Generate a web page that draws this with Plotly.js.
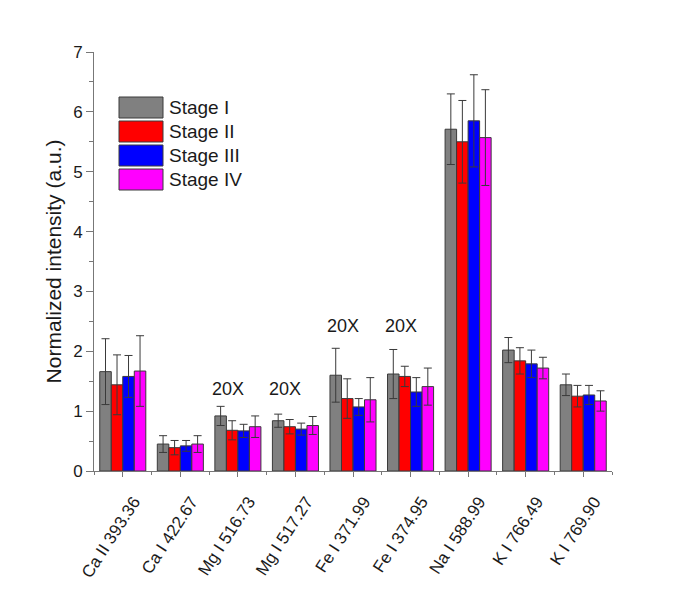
<!DOCTYPE html>
<html><head><meta charset="utf-8">
<script src="https://cdn.plot.ly/plotly-3.0.1.min.js"></script>
<style>html,body{margin:0;padding:0;background:#fff}#chart{width:686px;height:593px}</style>
</head><body><div id="chart"></div>
<script>
const categories = ["Ca II 393.36","Ca I 422.67","Mg I 516.73","Mg I 517.27","Fe I 371.99","Fe I 374.95","Na I 588.99","K I 766.49","K I 769.90"];
const stageNames = ["Stage I","Stage II","Stage III","Stage IV"];
const stage1 = [1.66,0.45,0.92,0.84,1.60,1.62,5.71,2.02,1.44];
const stage1Err = [0.55,0.14,0.16,0.11,0.45,0.41,0.59,0.21,0.18];
const stage2 = [1.44,0.39,0.68,0.74,1.21,1.58,5.50,1.84,1.25];
const stage2Err = [0.50,0.12,0.16,0.12,0.33,0.17,0.69,0.22,0.18];
const stage3 = [1.58,0.42,0.67,0.70,1.07,1.32,5.85,1.79,1.27];
const stage3Err = [0.35,0.09,0.11,0.10,0.14,0.24,0.77,0.23,0.16];
const stage4 = [1.67,0.45,0.74,0.76,1.19,1.41,5.57,1.72,1.17];
const stage4Err = [0.59,0.14,0.18,0.15,0.37,0.31,0.80,0.18,0.17];
const yTickVals = [0,1,2,3,4,5,6,7];
const noteCats = [2,3,4,5];
const noteTexts = ["20X","20X","20X","20X"];
const noteY = [1.37,1.37,2.43,2.43];

const colors = ["#808080","#ff0000","#0000ff","#ff00ff"];
const values = [stage1,stage2,stage3,stage4];
const errs = [stage1Err,stage2Err,stage3Err,stage4Err];
const xIdx = categories.map((c,i)=>i);

const traces = values.map((v,k)=>({
  type:"bar", name:stageNames[k], x:xIdx, y:v,
  marker:{color:colors[k], line:{color:"#3a3a3a", width:1}},
  error_y:{type:"data", array:errs[k], visible:true, color:"#3a3a3a", thickness:1, width:4},
  showlegend:false
}));

const M = {l:94, r:74, t:52, b:122};
const W = 686, H = 593;
const pw = W-M.l-M.r, ph = H-M.t-M.b;
const px2x = px => (px-M.l)/pw;
const py2y = py => (H-M.b-py)/ph;

const shapes = [];
const annotations = [];
stageNames.forEach((n,k)=>{
  const top = 97 + k*24;
  shapes.push({type:"rect", xref:"paper", yref:"paper",
    x0:px2x(119), x1:px2x(163), y0:py2y(top+21), y1:py2y(top),
    fillcolor:colors[k], line:{color:"#3a3a3a", width:1}});
  annotations.push({xref:"paper", yref:"paper", x:px2x(167), y:py2y(top+10.5),
    text:n, showarrow:false, xanchor:"left", yanchor:"middle",
    font:{size:19, color:"#1a1a1a"}});
});
noteCats.forEach((c,i)=>{
  annotations.push({xref:"x", yref:"y", x:c, y:noteY[i], text:noteTexts[i],
    showarrow:false, xanchor:"center", yanchor:"middle", xshift:-10,
    font:{size:18, color:"#1a1a1a"}});
});

const layout = {
  width:W, height:H, margin:M,
  paper_bgcolor:"#fff", plot_bgcolor:"#fff",
  font:{family:"Liberation Sans, Arial, sans-serif", color:"#1a1a1a"},
  barmode:"group", bargap:0.2, bargroupgap:0,
  xaxis:{type:"linear", range:[-0.5,8.5], tickmode:"array", tickvals:xIdx, ticktext:categories,
    tickangle:-57, ticks:"outside", ticklen:5, tickcolor:"#777", showline:true, linecolor:"#777", linewidth:1,
    showgrid:false, zeroline:false, tickfont:{size:17}, ticklabelshift:11, ticklabelstandoff:8,
    minor:{tickmode:"linear", tick0:0.5, dtick:1, ticks:"outside", ticklen:3, tickcolor:"#777", showgrid:false}},
  yaxis:{range:[0,7], tickmode:"array", tickvals:yTickVals, ticks:"outside", ticklen:7, tickcolor:"#777",
    showline:true, linecolor:"#777", linewidth:1, showgrid:false, zeroline:false, tickfont:{size:17},
    minor:{tickmode:"linear", tick0:0, dtick:0.5, ticks:"outside", ticklen:4, tickcolor:"#777", showgrid:false},
    title:{text:"Normalized intensity (a.u.)", font:{size:21}, standoff:5}},
  shapes:shapes, annotations:annotations
};
Plotly.newPlot("chart", traces, layout, {displayModeBar:false, staticPlot:true});
</script></body></html>
